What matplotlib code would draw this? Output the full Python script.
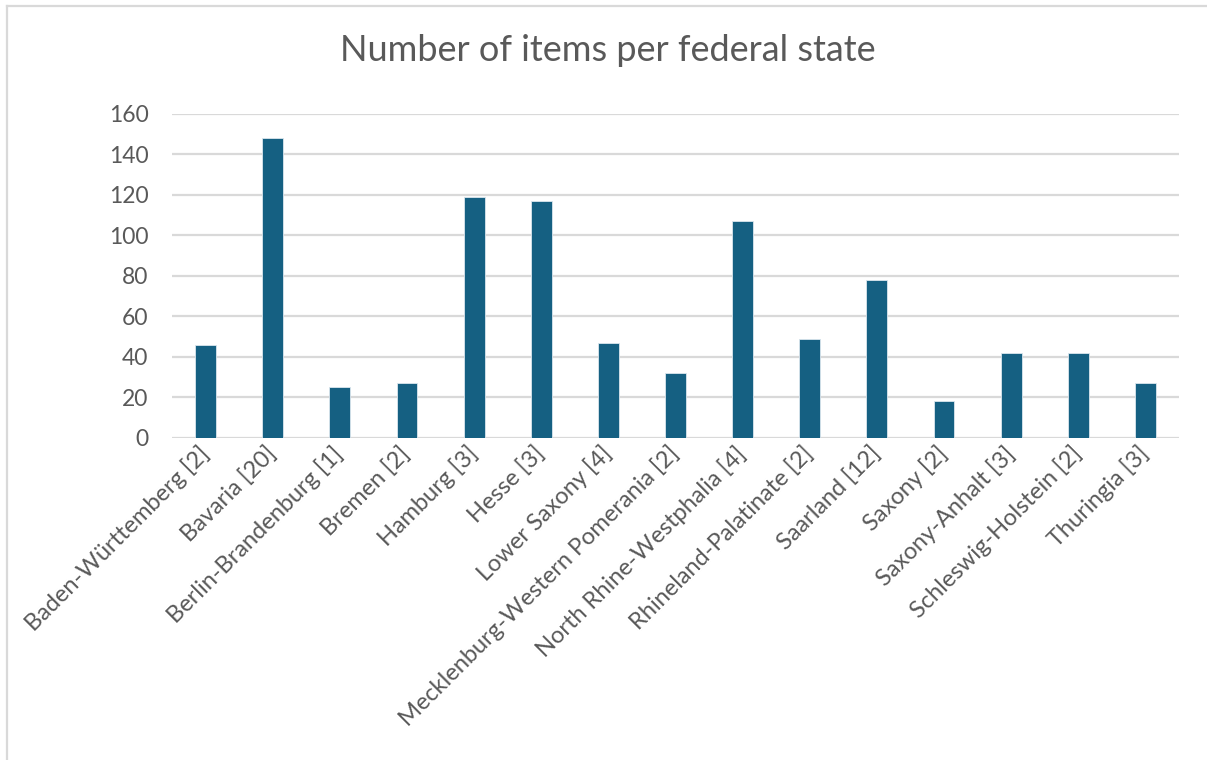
import matplotlib.pyplot as plt
from matplotlib.lines import Line2D

plt.rcParams['font.family'] = ['Lato', 'DejaVu Sans']

states = ['Baden-Württemberg [2]', 'Bavaria [20]', 'Berlin-Brandenburg [1]',
          'Bremen [2]', 'Hamburg [3]', 'Hesse [3]', 'Lower Saxony [4]',
          'Mecklenburg-Western Pomerania [2]', 'North Rhine-Westphalia [4]',
          'Rhineland-Palatinate [2]', 'Saarland [12]', 'Saxony [2]',
          'Saxony-Anhalt [3]', 'Schleswig-Holstein [2]', 'Thuringia [3]']
items = [46, 148, 25, 27, 119, 117, 47, 32, 107, 49, 78, 18, 42, 42, 27]
yticks = [0, 20, 40, 60, 80, 100, 120, 140, 160]

grey = '#595959'
fig = plt.figure(figsize=(12.07, 7.6), dpi=100)
ax = fig.add_axes([0.1425, 0.424, 0.8343, 0.4264])

x = range(len(states))
ax.bar(x, items, width=0.31, color='#156082', edgecolor='#dbe6ee',
       linewidth=0.6, zorder=3)

ax.set_xlim(-0.5, len(states) - 0.5)
ax.set_ylim(0, 160)
ax.set_yticks(yticks)
ax.grid(axis='y', color='#d9d9d9', linewidth=1.6, zorder=0)
ax.tick_params(axis='y', length=0, pad=17, labelsize=16.5, labelcolor=grey)
ax.tick_params(axis='x', length=0, pad=9)
for s in ax.spines.values():
    s.set_visible(False)

ax.set_xticks(list(x))
ax.set_xticklabels(states, rotation=45, ha='right', va='center',
                   rotation_mode='anchor', fontsize=17, color=grey)

fig.text(0.5035, 0.934, 'Number of items per federal state', ha='center',
         va='center', fontsize=26, color=grey)

# outer frame, left and top edges only
frame = dict(transform=fig.transFigure, color='#d9d9d9', linewidth=1.6)
fig.lines.append(Line2D([0.0058, 0.0058], [0, 0.9921], **frame))
fig.lines.append(Line2D([0.0058, 1.0], [0.9921, 0.9921], **frame))

fig.savefig('out.png', dpi=100, facecolor='white')
